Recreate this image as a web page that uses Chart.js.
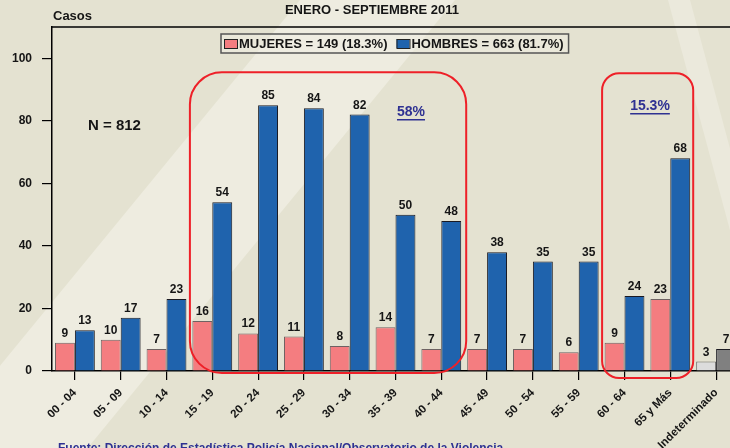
<!DOCTYPE html>
<html>
<head>
<meta charset="utf-8">
<script src="https://cdn.jsdelivr.net/npm/chart.js@4.4.1/dist/chart.umd.min.js"></script>
<style>
  html, body { margin: 0; padding: 0; overflow: hidden; width: 730px; height: 448px; background: #e4e2d1; }
  #wrap { width: 740px; height: 448px; position: relative; }
</style>
</head>
<body>
<div id="wrap"><canvas id="c" width="740" height="448"></canvas></div>
<script>
const categories = ['00 - 04','05 - 09','10 - 14','15 - 19','20 - 24','25 - 29','30 - 34','35 - 39','40 - 44','45 - 49','50 - 54','55 - 59','60 - 64','65 y Más','Indeterminado'];
const mujeres = [9, 10, 7, 16, 12, 11, 8, 14, 7, 7, 7, 6, 9, 23, 3];
const hombres = [13, 17, 23, 54, 85, 84, 82, 50, 48, 38, 35, 35, 24, 68, 7];
const yTicks = [0, 20, 40, 60, 80, 100];
const legendLabels = ['MUJERES = 149 (18.3%)', 'HOMBRES = 663 (81.7%)'];
const titleText = 'ENERO - SEPTIEMBRE 2011';
const yTitle = 'Casos';
const totalText = 'N = 812';
const highlightGroups = [
  { from: 3, to: 8, label: '58%' },
  { from: 12, to: 13, label: '15.3%' }
];
const sourceText = 'Fuente: Dirección de Estadística Policía Nacional/Observatorio de la Violencia';

const FONT = '"Liberation Sans", Arial, Helvetica, sans-serif';
const mujeresColors = categories.map((c, i) => i === categories.length - 1 ? '#dcdcdc' : '#f47d80');
const hombresColors = categories.map((c, i) => i === categories.length - 1 ? '#808080' : '#1f63ad');
const mujeresBorders = categories.map((c, i) => i === categories.length - 1 ? '#666666' : '#6e6262');

function roundRect(ctx, x, y, w, h, r) {
  ctx.beginPath();
  ctx.moveTo(x + r, y);
  ctx.lineTo(x + w - r, y);
  ctx.arcTo(x + w, y, x + w, y + r, r);
  ctx.lineTo(x + w, y + h - r);
  ctx.arcTo(x + w, y + h, x + w - r, y + h, r);
  ctx.lineTo(x + r, y + h);
  ctx.arcTo(x, y + h, x, y + h - r, r);
  ctx.lineTo(x, y + r);
  ctx.arcTo(x, y, x + r, y, r);
  ctx.closePath();
}

const bgPlugin = {
  id: 'bg',
  beforeDraw(chart) {
    const ctx = chart.ctx;
    ctx.save();
    ctx.fillStyle = '#e4e2d1';
    ctx.fillRect(0, 0, chart.width, chart.height);
    ctx.fillStyle = '#eeece0';
    ctx.beginPath();
    ctx.moveTo(300, 0);
    ctx.lineTo(455, 0);
    ctx.lineTo(455 - 0.82 * 448, 448);
    ctx.lineTo(300 - 0.82 * 448, 448);
    ctx.closePath();
    ctx.fill();
    ctx.fillStyle = '#ebe9dc';
    ctx.beginPath();
    ctx.moveTo(668, 0);
    ctx.lineTo(690, 0);
    ctx.lineTo(760, 260);
    ctx.lineTo(738, 260);
    ctx.closePath();
    ctx.fill();
    ctx.restore();
  }
};

const annoPlugin = {
  id: 'anno',
  afterDraw(chart) {
    const ctx = chart.ctx;
    const xs = chart.scales.x, ys = chart.scales.y;
    const area = chart.chartArea;
    const band = xs.getPixelForValue(1) - xs.getPixelForValue(0);
    ctx.save();
    ctx.strokeStyle = '#000';
    ctx.lineWidth = 1.5;
    ctx.beginPath();
    ctx.moveTo(area.left, area.top);
    ctx.lineTo(area.right + 5, area.top);
    ctx.stroke();

    ctx.fillStyle = '#151515';
    ctx.font = 'bold 12px ' + FONT;
    ctx.textAlign = 'center';
    ctx.textBaseline = 'alphabetic';
    chart.data.datasets.forEach((ds, di) => {
      const meta = chart.getDatasetMeta(di);
      meta.data.forEach((bar, i) => {
        ctx.fillText(String(ds.data[i]), bar.x, bar.y - 6);
      });
    });

    ctx.font = 'bold 15px ' + FONT;
    ctx.textAlign = 'left';
    ctx.textBaseline = 'middle';
    ctx.fillStyle = '#151515';
    ctx.fillText(totalText, 88, 126);

    ctx.strokeStyle = '#ee2028';
    ctx.lineWidth = 2;
    const g1 = highlightGroups[0], g2 = highlightGroups[1];
    let l = xs.getPixelForValue(g1.from) - band / 2 + 0.5;
    let r = xs.getPixelForValue(g1.to) + band / 2 + 2;
    let t = ys.getPixelForValue(95.5);
    let b = ys.getPixelForValue(0) + 2;
    roundRect(ctx, l, t, r - l, b - t, 32);
    ctx.stroke();
    ctx.font = 'bold 14px ' + FONT;
    ctx.fillStyle = '#2e3192';
    ctx.textAlign = 'center';
    ctx.textBaseline = 'middle';
    let lx = 411, ly = 112;
    ctx.fillText(g1.label, lx, ly);
    let w = ctx.measureText(g1.label).width;
    ctx.fillRect(lx - w / 2, ly + 7, w, 1.5);

    l = xs.getPixelForValue(g2.from) - band / 2 + 0.5;
    r = xs.getPixelForValue(g2.to) + band / 2;
    t = ys.getPixelForValue(95.2);
    b = ys.getPixelForValue(0) + 7;
    roundRect(ctx, l, t, r - l, b - t, 17);
    ctx.stroke();
    lx = 650; ly = 106;
    ctx.fillText(g2.label, lx, ly);
    w = ctx.measureText(g2.label).width;
    ctx.fillRect(lx - w / 2, ly + 7, w, 1.5);

    ctx.font = 'bold 13px ' + FONT;
    ctx.textAlign = 'left';
    ctx.textBaseline = 'middle';
    const lgTop = 34, lgBot = 53, lgLeft = 221;
    let x = lgLeft + 3;
    const items = [];
    legendLabels.forEach((lab, i) => {
      items.push({ x, lab, color: i === 0 ? '#f47d80' : '#1f63ad' });
      x += 13 + 2 + ctx.measureText(lab).width + 9;
    });
    const lgRight = x - 9 + 5;
    ctx.fillStyle = 'rgba(240,238,228,0.5)';
    ctx.fillRect(lgLeft, lgTop, lgRight - lgLeft, lgBot - lgTop);
    ctx.strokeStyle = '#555';
    ctx.lineWidth = 1.5;
    ctx.strokeRect(lgLeft, lgTop, lgRight - lgLeft, lgBot - lgTop);
    items.forEach(it => {
      ctx.fillStyle = it.color;
      ctx.fillRect(it.x, 39, 13, 9);
      ctx.strokeStyle = '#222';
      ctx.lineWidth = 1;
      ctx.strokeRect(it.x + 0.5, 39.5, 13, 9);
      ctx.fillStyle = '#151515';
      ctx.fillText(it.lab, it.x + 15, 44);
    });

    ctx.fillStyle = '#151515';
    ctx.font = 'bold 13px ' + FONT;
    ctx.textAlign = 'center';
    ctx.fillText(titleText, 372, 10);
    ctx.textAlign = 'left';
    ctx.fillText(yTitle, 53, 16);

    ctx.fillStyle = '#2e3192';
    ctx.font = 'bold 12px ' + FONT;
    ctx.textBaseline = 'top';
    ctx.fillText(sourceText, 58, 443);
    ctx.restore();
  }
};

new Chart(document.getElementById('c'), {
  type: 'bar',
  data: {
    labels: categories,
    datasets: [
      { label: legendLabels[0], data: mujeres, backgroundColor: mujeresColors, borderColor: mujeresBorders, borderWidth: 1, categoryPercentage: 0.87, barPercentage: 1.0 },
      { label: legendLabels[1], data: hombres, backgroundColor: hombresColors, borderColor: '#1a1a22', borderWidth: 1, categoryPercentage: 0.87, barPercentage: 1.0 }
    ]
  },
  options: {
    responsive: false,
    animation: false,
    devicePixelRatio: 1,
    layout: { padding: { top: 27, right: 1, left: 0, bottom: 0 } },
    plugins: { legend: { display: false }, tooltip: { enabled: false }, title: { display: false } },
    scales: {
      x: {
        offset: true,
        grid: { display: true, offset: false, drawOnChartArea: false, drawTicks: true, tickLength: 9, color: '#000', lineWidth: 1.2 },
        border: { display: true, color: '#000', width: 1.5 },
        ticks: { color: '#151515', font: { family: FONT, size: 11.5, weight: 'bold' }, maxRotation: 45, minRotation: 45, padding: 6, autoSkip: false },
        afterFit(scale) { scale.height = 77; }
      },
      y: {
        min: 0, max: 110,
        afterBuildTicks(scale) { scale.ticks = yTicks.map(v => ({ value: v })); },
        grid: { display: true, drawOnChartArea: false, drawTicks: true, tickLength: 10, color: '#000', lineWidth: 1.2 },
        border: { display: true, color: '#000', width: 1.5 },
        ticks: { color: '#151515', font: { family: FONT, size: 12, weight: 'bold' }, padding: 10 },
        afterFit(scale) { scale.width = 52; }
      }
    }
  },
  plugins: [bgPlugin, annoPlugin]
});
</script>
</body>
</html>
